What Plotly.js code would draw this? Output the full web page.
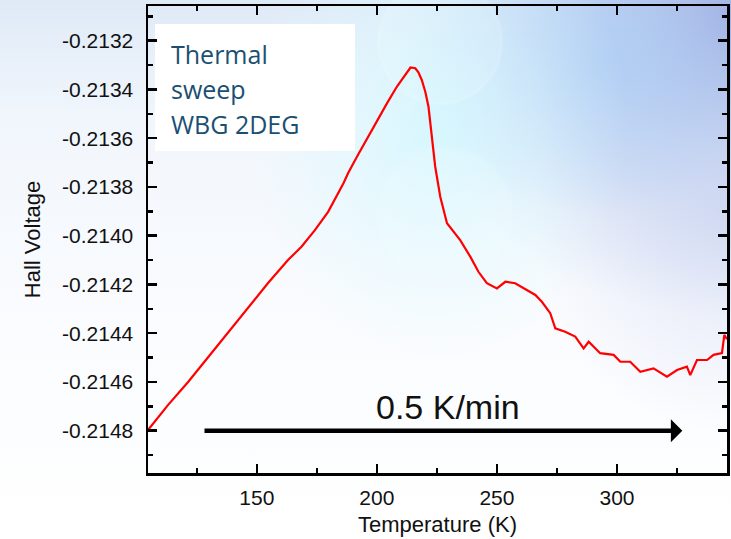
<!DOCTYPE html>
<html>
<head>
<meta charset="utf-8">
<script src="https://cdn.plot.ly/plotly-3.0.1.min.js"></script>
<style>
  html, body { margin: 0; padding: 0; }
  #chart {
    width: 731px; height: 539px;
    background:
      radial-gradient(circle 64px at 440px 42px, rgba(235,253,255,0.18) 0, rgba(235,253,255,0.18) 59px, rgba(245,255,255,0.25) 61px, rgba(245,255,255,0) 64px),
      radial-gradient(circle 70px at 445px 215px, rgba(245,255,255,0.15) 0, rgba(245,255,255,0.15) 66px, rgba(245,255,255,0) 70px),
      radial-gradient(ellipse 190px 230px at 60% 24%, rgba(210,247,255,0.85) 0%, rgba(218,248,255,0.4) 55%, rgba(218,248,255,0) 100%),
      radial-gradient(ellipse 190px 150px at 82% 12%, rgba(172,206,245,0.8) 0%, rgba(185,212,245,0) 100%),
      radial-gradient(ellipse 340px 300px at 100% 3%, rgba(158,172,224,0.95) 0%, rgba(180,196,236,0.55) 45%, rgba(215,225,246,0) 100%),
      radial-gradient(ellipse 200px 220px at 100% 40%, rgba(205,212,240,0.55) 0%, rgba(210,216,242,0) 100%),
      linear-gradient(to bottom, #dfeaf7 0%, #f1f6fc 22%, #f9fbfe 55%, #ffffff 100%);
  }
</style>
</head>
<body>
<div id="chart"></div>
<script>
// Thermal sweep of the Hall voltage
const temperatureK = [
  104.7, 113.0, 121.4, 129.7, 138.0, 146.4, 154.7, 163.0, 168.6, 174.2,
  179.7, 186.1, 188.0, 191.7, 198.6, 204.2, 208.3, 212.5, 214.0, 216.0,
  217.3, 218.7, 220.2, 221.5, 222.9, 224.3, 226.4, 229.2, 234.7, 238.9,
  242.3, 245.8, 250.0, 253.5, 257.6, 261.1, 266.0, 268.7, 272.2, 274.3,
  278.4, 282.6, 286.1, 288.2, 293.0, 298.6, 301.4, 305.5, 309.7, 315.2,
  320.8, 325.0, 329.1, 330.5, 333.3, 337.5, 340.2, 343.7, 344.7, 345.8
];
const hallVoltage = [
  -0.214797, -0.214695, -0.214600, -0.214498, -0.214399, -0.214297, -0.214194, -0.214100, -0.214045, -0.213977,
  -0.213902, -0.213785, -0.213744, -0.213676, -0.213553, -0.213457, -0.213389, -0.213327, -0.213310, -0.213313,
  -0.213330, -0.213361, -0.213410, -0.213471, -0.213594, -0.213717, -0.213840, -0.213949, -0.214018, -0.214086,
  -0.214148, -0.214195, -0.214216, -0.214189, -0.214195, -0.214216, -0.214243, -0.214271, -0.214318, -0.214380,
  -0.214394, -0.214414, -0.214462, -0.214435, -0.214482, -0.214489, -0.214517, -0.214517, -0.214558, -0.214544,
  -0.214578, -0.214551, -0.214537, -0.214572, -0.214510, -0.214510, -0.214489, -0.214482, -0.214407, -0.214425
];

// Axis ticks
const xTickVals = [150, 200, 250, 300];
const xMinorVals = [125, 175, 225, 275, 325];
const yTickVals = [-0.2148, -0.2146, -0.2144, -0.2142, -0.2140, -0.2138, -0.2136, -0.2134, -0.2132];
const yTickLabels = ['-0.2148', '-0.2146', '-0.2144', '-0.2142', '-0.2140', '-0.2138', '-0.2136', '-0.2134', '-0.2132'];

// Sweep-rate arrow (start and end temperature, drawn at this voltage level)
const sweepArrowT = [127.6, 327.2];
const sweepArrowV = -0.2148;
const sweepLabel = '0.5 K/min';
const noteLines = ['Thermal', 'sweep', 'WBG 2DEG'];

const sans = 'Liberation Sans, Arial, sans-serif';
const tickFont = { family: sans, size: 21, color: '#111' };

const trace = {
  x: temperatureK,
  y: hallVoltage,
  type: 'scatter',
  mode: 'lines',
  line: { color: '#ff0000', width: 2.2 },
  hoverinfo: 'skip'
};

const noteY = [0.8979, 0.8229, 0.7480];
const annotations = noteLines.map((t, i) => ({
  xref: 'paper', yref: 'paper', x: 0.037, y: noteY[i],
  xanchor: 'left', yanchor: 'middle', showarrow: false,
  text: t,
  font: { family: 'Open Sans, Noto Sans, sans-serif', size: 25, color: '#1b4f72' }
}));

annotations.push({
  xref: 'x', yref: 'y', axref: 'x', ayref: 'y',
  x: sweepArrowT[1], y: sweepArrowV,
  ax: sweepArrowT[0], ay: sweepArrowV,
  text: '', showarrow: true,
  arrowhead: 1, arrowsize: 0.85, arrowwidth: 4.5, arrowcolor: '#000',
  standoff: 0, startstandoff: 0
});
annotations.push({
  xref: 'paper', yref: 'paper', x: 0.518, y: 0.141,
  xanchor: 'center', yanchor: 'middle', showarrow: false,
  text: sweepLabel,
  font: { family: sans, size: 34, color: '#111' }
});

const layout = {
  width: 731, height: 539,
  margin: { l: 148, r: 4, t: 6, b: 66 },
  paper_bgcolor: 'rgba(0,0,0,0)',
  plot_bgcolor: 'rgba(0,0,0,0)',
  showlegend: false,
  xaxis: {
    range: [104.7, 345.8],
    tickvals: xTickVals,
    ticks: 'inside', ticklen: 9, tickwidth: 2.5, tickcolor: '#000',
    minor: { tickvals: xMinorVals, ticks: 'inside', ticklen: 5, tickwidth: 2.5, tickcolor: '#000' },
    showline: true, linecolor: '#000', linewidth: 2.5, mirror: 'allticks',
    showgrid: false, zeroline: false,
    tickfont: tickFont,
    ticklabelstandoff: 4,
    title: { text: 'Temperature (K)', font: { family: sans, size: 22, color: '#111' }, standoff: 9 }
  },
  yaxis: {
    range: [-0.2149735, -0.2130576],
    tickvals: yTickVals,
    ticktext: yTickLabels,
    ticks: 'inside', ticklen: 9, tickwidth: 2.5, tickcolor: '#000',
    minor: { dtick: 0.0001, tick0: -0.2148, ticks: 'inside', ticklen: 5, tickwidth: 2.5, tickcolor: '#000' },
    showline: true, linecolor: '#000', linewidth: 2.5, mirror: 'allticks',
    showgrid: false, zeroline: false,
    tickfont: tickFont,
    ticklabelstandoff: 8,
    title: { text: 'Hall Voltage', font: { family: sans, size: 22, color: '#111' }, standoff: 16 }
  },
  shapes: [{
    type: 'rect', xref: 'paper', yref: 'paper',
    x0: 0.0121, x1: 0.3575, y0: 0.6895, y1: 0.9615,
    fillcolor: '#ffffff', line: { width: 0 }, layer: 'below'
  }],
  annotations: annotations
};

Plotly.newPlot('chart', [trace], layout, { staticPlot: true, displayModeBar: false });
</script>
</body>
</html>
